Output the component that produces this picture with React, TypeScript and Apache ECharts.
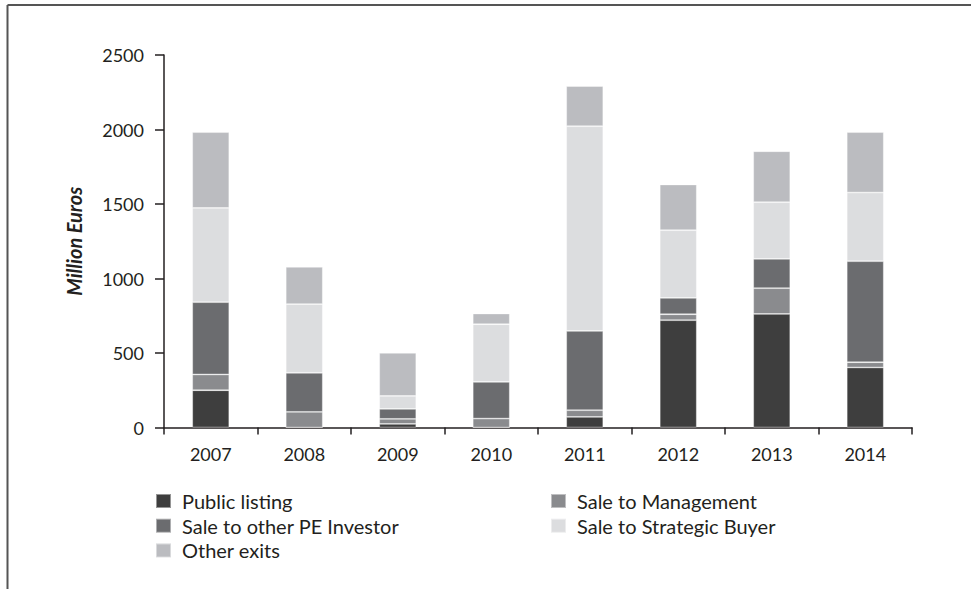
import React, { useEffect, useRef } from "react";
import * as echarts from "echarts";

const years = ["2007", "2008", "2009", "2010", "2011", "2012", "2013", "2014"];
const publicListing = [250, 0, 24, 0, 71, 720, 762, 403];
const saleToManagement = [106, 105, 34, 60, 45, 40, 173, 35];
const saleToOtherPE = [485, 262, 67, 246, 532, 110, 197, 678];
const saleToStrategic = [633, 461, 87, 387, 1374, 454, 380, 461];
const otherExits = [508, 250, 289, 72, 269, 307, 342, 405];
const yTicks = [0, 500, 1000, 1500, 2000, 2500];

const seriesDefs = [
  { name: "Public listing", data: publicListing, color: "#3e3e3e" },
  { name: "Sale to Management", data: saleToManagement, color: "#8a8b8e" },
  { name: "Sale to other PE Investor", data: saleToOtherPE, color: "#6b6c6f" },
  { name: "Sale to Strategic Buyer", data: saleToStrategic, color: "#dcdddf" },
  { name: "Other exits", data: otherExits, color: "#bbbcc0" },
];

const FONT = "Lato";
const TEXT = "#231f20";

export default function App() {
  const ref = useRef<HTMLDivElement>(null);
  useEffect(() => {
    if (!ref.current) return;
    const chart = echarts.init(ref.current, null, { renderer: "svg" });
    const legendText = {
      fontFamily: FONT,
      fontSize: 20,
      color: TEXT,
      lineHeight: 20,
      padding: [0, 0, 0, 6],
    };
    chart.setOption({
      animation: false,
      backgroundColor: "#ffffff",
      grid: { left: 164, right: 59, top: 55, bottom: 161.5, containLabel: false },
      legend: [
        {
          orient: "vertical",
          left: 155,
          top: 491,
          padding: 0,
          itemWidth: 15,
          itemHeight: 14,
          itemGap: 4.7,
          icon: "rect",
          data: ["Public listing", "Sale to other PE Investor", "Other exits"],
          textStyle: legendText,
        },
        {
          orient: "vertical",
          left: 550,
          top: 491,
          padding: 0,
          itemWidth: 15,
          itemHeight: 14,
          itemGap: 4.7,
          icon: "rect",
          data: ["Sale to Management", "Sale to Strategic Buyer"],
          textStyle: legendText,
        },
      ],
      xAxis: {
        type: "category",
        data: years,
        axisLine: { lineStyle: { color: TEXT, width: 1.5 } },
        axisTick: { show: true, length: 7, alignWithLabel: false, lineStyle: { color: TEXT, width: 1.5 } },
        axisLabel: { fontFamily: FONT, fontSize: 18, color: TEXT, margin: 17 },
      },
      yAxis: {
        type: "value",
        min: yTicks[0],
        max: yTicks[yTicks.length - 1],
        interval: 500,
        name: "Million Euros",
        nameLocation: "middle",
        nameRotate: 90,
        nameGap: 80,
        nameTextStyle: { fontFamily: FONT, fontSize: 20, fontWeight: "bold", fontStyle: "italic", color: TEXT },
        axisLine: { show: true, lineStyle: { color: TEXT, width: 1.5 } },
        axisTick: { show: true, length: 9, lineStyle: { color: TEXT, width: 1.5 } },
        axisLabel: {
          fontFamily: FONT,
          fontSize: 18,
          color: TEXT,
          margin: 20,
          formatter: (v: number) => String(v),
        },
        splitLine: { show: false },
      },
      series: seriesDefs.map((s) => ({
        name: s.name,
        type: "bar",
        stack: "total",
        data: s.data,
        barWidth: 37,
        itemStyle: { color: s.color, borderColor: "rgba(255,255,255,0.45)", borderWidth: 0.8 },
      })),
      graphic: [
        { type: "line", shape: { x1: 7.5, y1: 5, x2: 971, y2: 5 }, style: { stroke: "#555555", lineWidth: 2 } },
        { type: "line", shape: { x1: 7.5, y1: 5, x2: 7.5, y2: 589 }, style: { stroke: "#555555", lineWidth: 2 } },
      ],
    });
    return () => chart.dispose();
  }, []);
  return (
    <div
      ref={ref}
      style={{ position: "fixed", left: 0, top: 0, width: 971, height: 589, background: "#fff" }}
    />
  );
}
